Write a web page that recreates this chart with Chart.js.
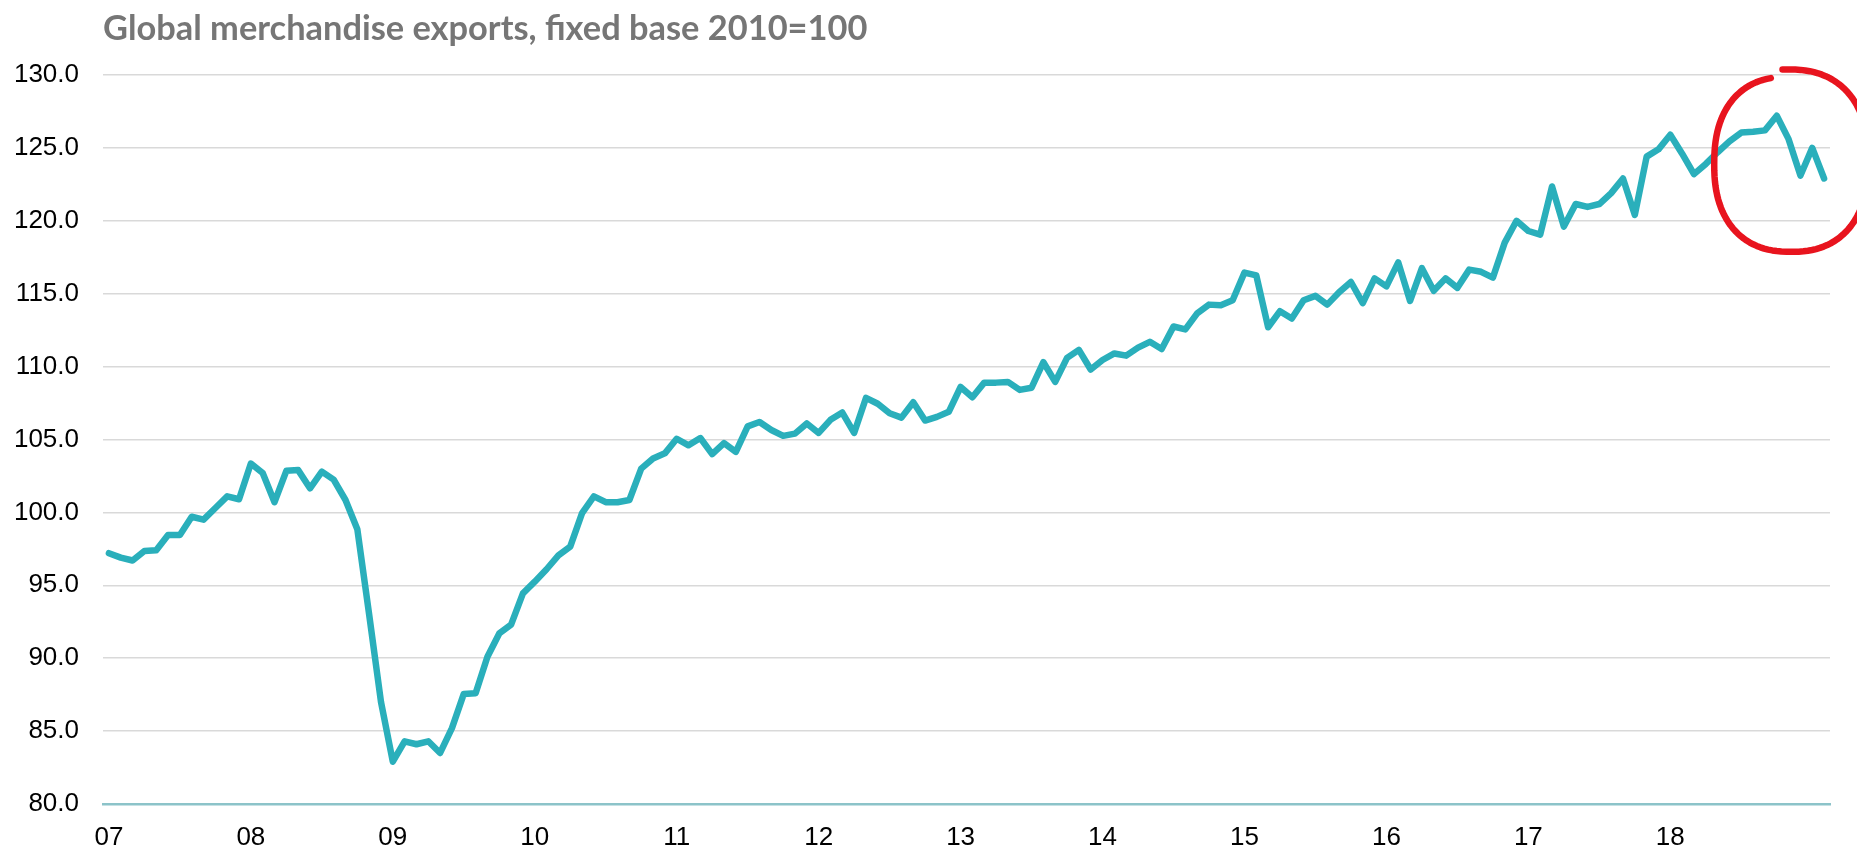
<!DOCTYPE html>
<html>
<head>
<meta charset="utf-8">
<title>Global merchandise exports</title>
<script src="https://cdn.jsdelivr.net/npm/chart.js@4"></script>
<style>
  html, body { margin: 0; padding: 0; background: #fff; }
  #wrap { width: 1857px; height: 848px; }
</style>
</head>
<body>
<div id="wrap"><canvas id="exportsChart"></canvas></div>
<script>
// monthly index values (2010=100), Jan 2007 - Feb 2019
const y2007 = [97.2, 96.9, 96.7, 97.35, 97.4, 98.45, 98.45, 99.7, 99.5, 100.3, 101.1, 100.9];
const y2008 = [103.35, 102.7, 100.7, 102.85, 102.9, 101.65, 102.8, 102.25, 100.85, 98.85, 93.0, 87.0];
const y2009 = [82.9, 84.3, 84.1, 84.3, 83.5, 85.2, 87.55, 87.6, 90.1, 91.7, 92.3, 94.45];
const y2010 = [95.25, 96.1, 97.05, 97.65, 99.95, 101.1, 100.7, 100.7, 100.85, 103.0, 103.7, 104.05];
const y2011 = [105.05, 104.6, 105.1, 104.0, 104.75, 104.15, 105.9, 106.2, 105.65, 105.25, 105.4, 106.1];
const y2012 = [105.45, 106.35, 106.85, 105.45, 107.85, 107.45, 106.8, 106.5, 107.55, 106.3, 106.55, 106.9];
const y2013 = [108.6, 107.9, 108.9, 108.9, 108.95, 108.4, 108.55, 110.3, 108.95, 110.6, 111.15, 109.8];
const y2014 = [110.45, 110.9, 110.75, 111.3, 111.7, 111.2, 112.75, 112.55, 113.65, 114.25, 114.2, 114.55];
const y2015 = [116.45, 116.25, 112.7, 113.8, 113.3, 114.55, 114.85, 114.25, 115.1, 115.8, 114.35, 116.05];
const y2016 = [115.5, 117.15, 114.5, 116.75, 115.2, 116.05, 115.4, 116.65, 116.5, 116.1, 118.5, 120.0];
const y2017 = [119.3, 119.05, 122.35, 119.6, 121.15, 120.95, 121.15, 121.9, 122.9, 120.4, 124.4, 124.9];
const y2018 = [125.9, 124.6, 123.2, 123.9, 124.7, 125.45, 126.05, 126.1, 126.2, 127.2, 125.6, 123.1];
const y2019 = [125.0, 122.9];

// axis labels
const yearLabels = ["07", "08", "09", "10", "11", "12", "13", "14", "15", "16", "17", "18"];
const monthNames = ["Jan", "Feb", "Mar", "Apr", "May", "Jun", "Jul", "Aug", "Sep", "Oct", "Nov", "Dec"];
const yMin = 80;
const yMax = 130;
const yStep = 5;

const values = [].concat(y2007, y2008, y2009, y2010, y2011, y2012, y2013,
  y2014, y2015, y2016, y2017, y2018, y2019);

// one category per month
let months = [];
for (let i = 0; i < values.length; i++) {
  months.push(monthNames[i % 12] + " " + (2007 + Math.floor(i / 12)));
}

const tickFont = { family: "Liberation Sans, Arial, sans-serif", size: 26 };

// hand drawn red loop around the last months
const circleNote = {
  id: "circleNote",
  afterDatasetsDraw(chart) {
    const { ctx, scales } = chart;
    const x = scales.x;
    const y = scales.y;
    const cx = x.getPixelForValue(142.1);
    const cy = y.getPixelForValue(124);
    const rx = x.getPixelForValue(142.1 + 6.6) - cx;
    const ry = cy - y.getPixelForValue(124 + 6.2);
    const t0 = -1.63;
    const t1 = 4.51;
    ctx.save();
    ctx.strokeStyle = "#e8141e";
    ctx.lineWidth = 6.5;
    ctx.lineCap = "round";
    ctx.lineJoin = "round";
    ctx.beginPath();
    for (let k = 0; k <= 120; k++) {
      const p = k / 120;
      const t = t0 + (t1 - t0) * p;
      const grow = 1.03 - 0.08 * p;
      const c = Math.cos(t);
      const s = Math.sin(t);
      const px = cx + rx * grow * Math.sign(c) * Math.pow(Math.abs(c), 0.85);
      const py = cy + ry * grow * Math.sign(s) * Math.pow(Math.abs(s), 0.85);
      if (k === 0) ctx.moveTo(px, py);
      else ctx.lineTo(px, py);
    }
    ctx.stroke();
    ctx.restore();
  },
};

let ctx = document.getElementById("exportsChart").getContext("2d");
new Chart(ctx, {
  type: "line",
  data: {
    labels: months,
    datasets: [
      {
        label: "Global merchandise exports",
        data: values,
        borderColor: "#2aafbb",
        borderWidth: 6.5,
        borderJoinStyle: "round",
        borderCapStyle: "round",
        pointRadius: 0,
        tension: 0,
        fill: false,
      },
    ],
  },
  options: {
    responsive: true,
    maintainAspectRatio: false,
    animation: false,
    layout: {
      padding: { top: 0, right: 27, bottom: 0, left: 0 },
    },
    plugins: {
      legend: { display: false },
      tooltip: { enabled: false },
      title: {
        display: true,
        text: "Global merchandise exports, fixed base 2010=100",
        align: "start",
        fullSize: false,
        color: "#767676",
        font: { family: "Lato, sans-serif", weight: "bold", size: 34.4 },
        padding: { top: 8, bottom: 25.7 },
      },
    },
    scales: {
      x: {
        type: "category",
        offset: true,
        grid: { display: false },
        border: { display: true, color: "#8cc3c9", width: 2.5, dash: [8, 3] },
        ticks: {
          autoSkip: false,
          maxRotation: 0,
          padding: 10,
          color: "#000",
          font: tickFont,
          callback: function (value, index) {
            if (index % 12 !== 0) return "";
            return yearLabels[index / 12] || "";
          },
        },
        afterFit: function (scale) {
          scale.height = 44;
        },
      },
      y: {
        min: yMin,
        max: yMax,
        grid: {
          color: (c) => (c.tick && c.tick.value === yMin ? "#b3b3b3" : "#d9d9d9"),
          lineWidth: 1.5,
          drawTicks: false,
        },
        border: { display: false },
        ticks: {
          stepSize: yStep,
          padding: 24,
          color: "#000",
          font: tickFont,
          callback: function (value) {
            return value.toFixed(1);
          },
        },
        afterFit: function (scale) {
          scale.width = 103;
        },
      },
    },
  },
  plugins: [circleNote],
});
</script>
</body>
</html>
